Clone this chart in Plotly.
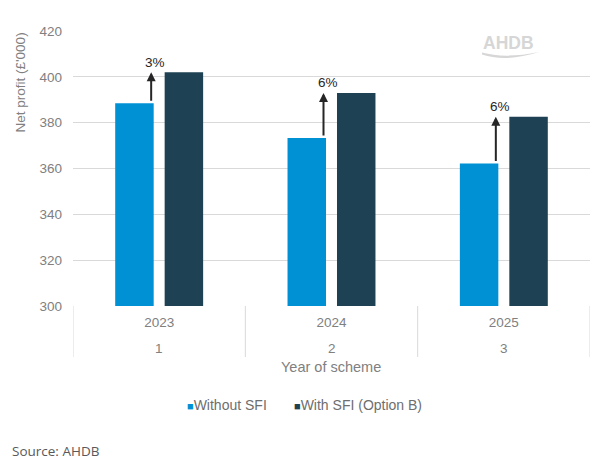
import plotly.graph_objects as go

# ---- data ----
calendar_years = ["2023", "2024", "2025"]
scheme_years = ["1", "2", "3"]
series_names = ["Without SFI", "With SFI (Option B)"]
without_sfi = [388.5, 373.3, 362.2]
with_sfi = [402.0, 393.0, 382.6]
uplift_labels = ["3%", "6%", "6%"]
y_ticks = [300, 320, 340, 360, 380, 400, 420]

# ---- style ----
BLUE = "#0090d4"
DARK = "#1e4253"
GRID = "#d9d9d9"
GRAY = "#808080"
FONT = "Liberation Sans, Arial, sans-serif"

OFF = 8  # page body margin in the browser
W, H = 602 - OFF, 467 - OFF
PLOT_X0, PLOT_X1, PLOT_Y0, PLOT_Y1 = 73, 590, 31, 306  # reference pixel coords
L, R = PLOT_X0 - OFF, (602 - OFF) - (PLOT_X1 - OFF)
T, B = PLOT_Y0 - OFF, (467 - OFF) - (PLOT_Y1 - OFF)
PW, PH = PLOT_X1 - PLOT_X0, PLOT_Y1 - PLOT_Y0


def px_x(px):
    return (px - PLOT_X0) / PW


def px_y(py):
    return (PLOT_Y1 - py) / PH


x = list(range(len(calendar_years)))
cat_px = PW / len(x)

fig = go.Figure()
fig.add_trace(go.Bar(x=x, y=without_sfi, name=series_names[0], marker_color=BLUE,
                     marker_line_width=0, showlegend=False))
fig.add_trace(go.Bar(x=x, y=with_sfi, name=series_names[1], marker_color=DARK,
                     marker_line_width=0, showlegend=False))

annotations = []
shapes = []

# arrows from "without" to "with" value and uplift labels
arrow_off = -8 / cat_px
for i in x:
    annotations.append(dict(
        x=i + arrow_off, y=with_sfi[i], ax=i + arrow_off, ay=without_sfi[i],
        xref="x", yref="y", axref="x", ayref="y", text="", showarrow=True,
        arrowhead=2, arrowsize=0.9, arrowwidth=2, arrowcolor="#262626", standoff=0,
        startstandoff=1))
    annotations.append(dict(
        x=i + arrow_off + 4 / cat_px, y=with_sfi[i], xref="x", yref="y",
        text=uplift_labels[i], showarrow=False, yshift=10, yanchor="middle",
        font=dict(family=FONT, size=13.5, color="#262626")))

# scheme year row
for i in x:
    annotations.append(dict(
        x=i, y=px_y(348), xref="x", yref="paper", text=scheme_years[i],
        showarrow=False, yanchor="middle",
        font=dict(family=FONT, size=13.5, color=GRAY)))

# table dividers
for b in [-0.5 + k for k in range(len(x) + 1)]:
    shapes.append(dict(type="line", xref="x", yref="paper", x0=b, x1=b,
                       y0=0, y1=px_y(357), line=dict(color=GRID, width=1)))

# axis titles
annotations.append(dict(x=px_x(331), y=px_y(367), xref="paper", yref="paper",
                        text="Year of scheme", showarrow=False, yanchor="middle",
                        font=dict(family=FONT, size=14.5, color=GRAY)))
annotations.append(dict(x=px_x(20), y=px_y(82.5), xref="paper", yref="paper",
                        text="Net profit (£'000)", textangle=-90, showarrow=False,
                        xanchor="center", yanchor="middle",
                        font=dict(family=FONT, size=13.5, color=GRAY)))

# legend (manual)
for name, color, lx in [(series_names[0], BLUE, 185), (series_names[1], DARK, 292)]:
    annotations.append(dict(
        x=px_x(lx), y=px_y(405), xref="paper", yref="paper", xanchor="left",
        yanchor="middle", showarrow=False,
        text=f"<span style='color:{color};font-size:11px'>■</span>{name}",
        font=dict(family=FONT, size=14, color="#6e6e6e")))

# source
annotations.append(dict(x=px_x(10), y=px_y(451), xref="paper", yref="paper",
                        xanchor="left", yanchor="middle", showarrow=False,
                        text="Source: AHDB",
                        font=dict(family="Open Sans, sans-serif", size=13.5, color="#595959")))

# AHDB watermark
annotations.append(dict(x=px_x(508), y=px_y(43), xref="paper", yref="paper",
                        xanchor="center", yanchor="middle", showarrow=False,
                        text="<b>AHDB</b>",
                        font=dict(family=FONT, size=17.5, color="#d6d6d6")))


def pt(a, b):
    return f"{px_x(a):.4f},{px_y(b):.4f}"


swoosh = (f"M {pt(482, 52.5)} Q {pt(505, 59)} {pt(539, 52)} "
          f"Q {pt(506, 62.5)} {pt(482, 54.5)} Z")
shapes.append(dict(type="path", xref="paper", yref="paper", path=swoosh,
                   fillcolor="#d6d6d6", line=dict(width=0)))

fig.update_layout(
    width=W, height=H,
    margin=dict(l=L, r=R, t=T, b=B, pad=0),
    paper_bgcolor="white", plot_bgcolor="white",
    barmode="group", bargap=0.426, bargroupgap=0.222,
    font=dict(family=FONT, size=13, color=GRAY),
    showlegend=False,
    annotations=annotations, shapes=shapes,
    xaxis=dict(range=[-0.5, len(x) - 0.5], tickvals=x, ticktext=calendar_years,
               showgrid=False, zeroline=False, showline=False, ticks="",
               ticklabelstandoff=6, tickfont=dict(family=FONT, size=13.5, color=GRAY),
               fixedrange=True),
    yaxis=dict(range=[300, 420], tickvals=y_ticks, showgrid=True, gridcolor=GRID,
               gridwidth=1, zeroline=False, showline=False, ticks="",
               ticklabelstandoff=10, tickfont=dict(family=FONT, size=13.5, color=GRAY),
               fixedrange=True),
)

fig.write_html("out.html")
